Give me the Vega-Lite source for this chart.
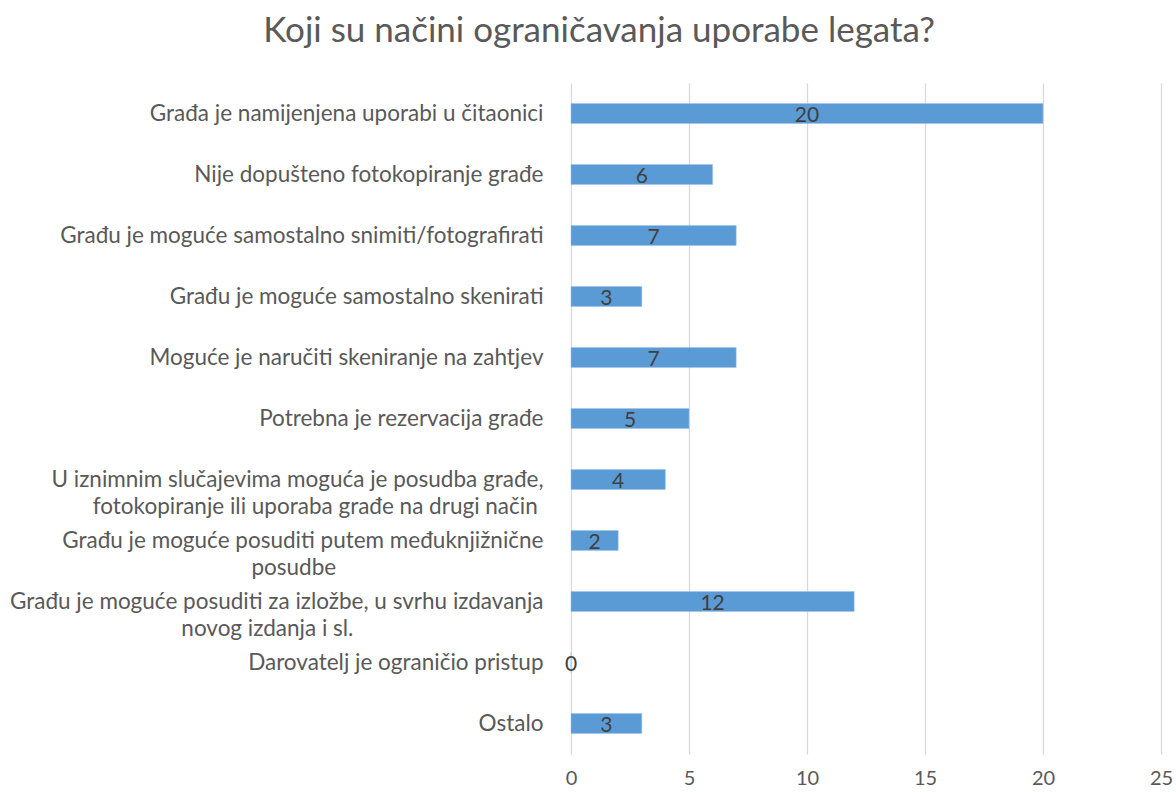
{
  "$schema": "https://vega.github.io/schema/vega-lite/v6.json",
  "autosize": "none",
  "width": 590,
  "height": 671,
  "padding": {"left": 571, "top": 83, "right": 15, "bottom": 38},
  "background": "white",
  "title": {
    "text": "Koji su načini ograničavanja uporabe legata?",
    "font": "Lato",
    "fontSize": 35,
    "fontWeight": "normal",
    "color": "#595959",
    "anchor": "middle",
    "dx": -267,
    "offset": 34
  },
  "data": {
    "values": [
      {"category": "Građa je namijenjena uporabi u čitaonici", "value": 20},
      {"category": "Nije dopušteno fotokopiranje građe", "value": 6},
      {"category": "Građu je moguće samostalno snimiti/fotografirati", "value": 7},
      {"category": "Građu je moguće samostalno skenirati", "value": 3},
      {"category": "Moguće je naručiti skeniranje na zahtjev", "value": 7},
      {"category": "Potrebna je rezervacija građe", "value": 5},
      {"category": "U iznimnim slučajevima moguća je posudba građe,\nfotokopiranje ili uporaba građe na drugi način", "value": 4},
      {"category": "Građu je moguće posuditi putem međuknjižnične\nposudbe", "value": 2},
      {"category": "Građu je moguće posuditi za izložbe, u svrhu izdavanja\nnovog izdanja i sl.", "value": 12},
      {"category": "Darovatelj je ograničio pristup", "value": 0},
      {"category": "Ostalo", "value": 3}
    ]
  },
  "encoding": {
    "y": {
      "field": "category",
      "type": "nominal",
      "sort": null,
      "title": null,
      "scale": {"paddingInner": 0.67, "paddingOuter": 0.335},
      "axis": {
        "domain": false,
        "ticks": false,
        "grid": false,
        "labelPadding": 28,
        "labelFont": "Lato",
        "labelFontSize": 22.5,
        "labelColor": "#595959",
        "labelLimit": 1000,
        "labelLineHeight": 27,
        "labelExpr": "length(split(datum.value, '\\n')) > 1 ? [split(datum.value, '\\n')[0], split(datum.value, '\\n')[1] + pad('', round(0.95 * (length(split(datum.value, '\\n')[0]) - length(split(datum.value, '\\n')[1]))), '\u00a0') + '\u200b'] : datum.value"
      }
    },
    "x": {
      "field": "value",
      "type": "quantitative",
      "title": null,
      "scale": {"domain": [0, 25], "nice": false},
      "axis": {
        "values": [0, 5, 10, 15, 20, 25],
        "domain": false,
        "ticks": false,
        "grid": true,
        "gridColor": "#d9d9d9",
        "gridWidth": 1.3,
        "labelFont": "Lato",
        "labelFontSize": 20,
        "labelColor": "#595959",
        "labelPadding": 14,
        "labelFlush": false
      }
    }
  },
  "layer": [
    {"mark": {"type": "bar", "color": "#5B9BD5", "stroke": "#9DC3E6", "strokeWidth": 0.5}},
    {
      "transform": [{"calculate": "datum.value / 2", "as": "mid"}],
      "mark": {"type": "text", "font": "Lato", "fontSize": 21, "color": "#404040", "baseline": "middle", "dy": 2},
      "encoding": {
        "x": {"field": "mid", "type": "quantitative"},
        "text": {"field": "value", "type": "quantitative"}
      }
    }
  ],
  "config": {"view": {"stroke": null}}
}
